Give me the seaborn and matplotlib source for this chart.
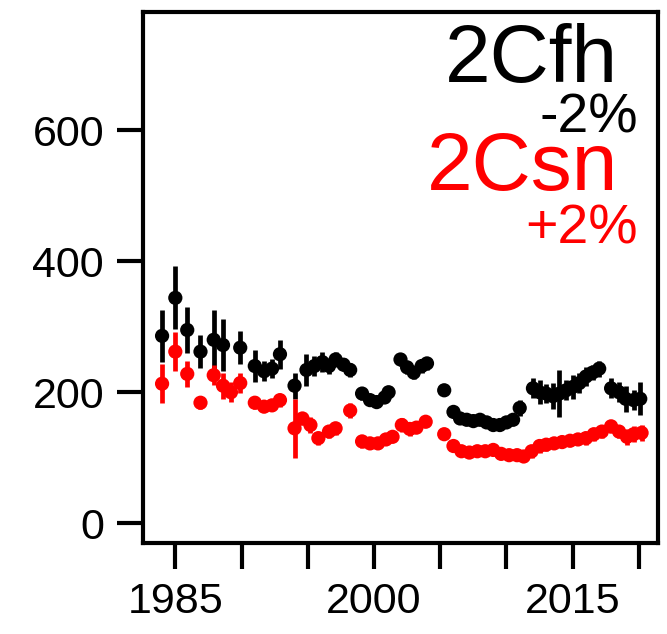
import numpy as np
import pandas as pd
import matplotlib
matplotlib.use("Agg")
import matplotlib.pyplot as plt
import seaborn as sns

# -------------------
# data
# -------------------
fh_year = [1984.0, 1985.0, 1985.9, 1986.9, 1987.9, 1988.6, 1989.9, 1991.0, 1991.7, 1992.3,
           1992.9, 1994.0, 1994.9, 1995.5, 1996.1, 1996.6, 1997.1, 1997.7, 1998.2, 1999.1,
           1999.7, 2000.2, 2000.8, 2001.1, 2002.0, 2002.5, 2003.0, 2003.6, 2004.0, 2005.3,
           2006.0, 2006.5, 2007.0, 2007.5, 2008.0, 2008.5, 2009.0, 2009.5, 2010.0, 2010.5,
           2011.0, 2012.0, 2012.5, 2013.0, 2013.5, 2014.0, 2014.5, 2015.0, 2015.5, 2016.0,
           2016.5, 2017.0, 2017.9, 2018.5, 2019.0, 2019.6, 2020.1]
fh_value = [286, 344, 295, 262, 280, 272, 268, 240, 232, 236,
            258, 210, 234, 240, 246, 240, 250, 242, 234, 198,
            188, 185, 192, 200, 250, 238, 230, 240, 244, 203,
            170, 160, 158, 156, 158, 154, 150, 150, 154, 158,
            176, 206, 200, 198, 194, 198, 203, 208, 214, 224,
            230, 236, 206, 200, 190, 188, 190]
fh_err = [40, 48, 35, 25, 45, 40, 25, 25, 15, 15,
          22, 20, 25, 15, 15, 12, 12, 10, 10, 10,
          8, 8, 8, 8, 10, 10, 10, 10, 10, 8,
          8, 8, 8, 8, 8, 8, 8, 8, 8, 8,
          12, 15, 18, 15, 20, 36, 15, 18, 15, 15,
          12, 12, 15, 15, 20, 15, 25]

sn_year = [1984.0, 1985.0, 1985.9, 1986.9, 1987.9, 1988.6, 1989.2, 1989.9, 1991.0, 1991.7,
           1992.3, 1992.9, 1994.0, 1994.6, 1995.2, 1995.8, 1996.6, 1997.1, 1998.2, 1999.1,
           1999.7, 2000.3, 2000.9, 2001.4, 2002.1, 2002.7, 2003.2, 2003.9, 2005.3, 2006.0,
           2006.6, 2007.2, 2007.8, 2008.4, 2009.0, 2009.6, 2010.2, 2010.8, 2011.3, 2011.9,
           2012.5, 2013.0, 2013.6, 2014.2, 2014.8, 2015.4, 2016.0, 2016.6, 2017.2, 2017.9,
           2018.5, 2019.1, 2019.6, 2020.2]
sn_value = [213, 262, 228, 184, 226, 210, 200, 214, 184, 178,
            180, 188, 145, 160, 150, 130, 140, 145, 172, 125,
            122, 122, 128, 132, 150, 144, 146, 155, 136, 118,
            110, 108, 110, 110, 112, 106, 104, 104, 102, 110,
            118, 120, 122, 124, 126, 128, 130, 136, 140, 148,
            140, 132, 136, 138]
sn_err = [30, 30, 20, 10, 15, 20, 15, 15, 10, 8,
          8, 10, 45, 10, 12, 10, 10, 10, 12, 10,
          8, 8, 8, 8, 10, 10, 8, 8, 8, 8,
          8, 8, 8, 8, 8, 8, 8, 8, 8, 10,
          10, 10, 8, 8, 8, 8, 10, 10, 10, 10,
          10, 12, 12, 12]

series_names = ["2Cfh", "2Csn"]
series_change = ["-2%", "+2%"]
series_colors = ["black", "#ff0000"]

x_ticks = [1985, 1990, 1995, 2000, 2005, 2010, 2015, 2020]
x_labels = ["1985", "", "", "2000", "", "", "2015", ""]
y_ticks = [0, 200, 400, 600]

df = pd.concat([
    pd.DataFrame({"year": fh_year, "value": fh_value, "err": fh_err, "series": "2Cfh"}),
    pd.DataFrame({"year": sn_year, "value": sn_value, "err": sn_err, "series": "2Csn"}),
])

# -------------------
# plot
# -------------------
sns.set_style("ticks")
plt.rcParams["font.family"] = ["Liberation Sans", "DejaVu Sans"]

fig = plt.figure(figsize=(6.67, 6.34), dpi=100)
ax = fig.add_axes([0.2144, 0.1435, 0.7721, 0.8375])

for name, col in zip(series_names, series_colors):
    d = df[df["series"] == name]
    ax.errorbar(d["year"], d["value"], yerr=d["err"], fmt="none",
                ecolor=col, elinewidth=3.4, capsize=0, zorder=2)

sns.scatterplot(data=df, x="year", y="value", hue="series",
                palette=dict(zip(series_names, series_colors)),
                marker="o", s=105, linewidth=0, legend=False, ax=ax, zorder=3)

ax.set_xlim(1982.56, 2021.44)
ax.set_ylim(-30, 780)
ax.set_xticks(x_ticks)
ax.set_xticklabels(x_labels)
ax.set_yticks(y_ticks)
ax.set_xlabel("")
ax.set_ylabel("")

for s in ax.spines.values():
    s.set_visible(True)
    s.set_linewidth(3)
    s.set_color("black")
ax.tick_params(axis="both", direction="out", length=19, width=3,
               labelsize=31, colors="black", pad=9)

# labels in the top-right corner
ax.text(0.922, 0.868, series_names[0], transform=ax.transAxes, ha="right",
        va="baseline", fontsize=59, color=series_colors[0])
ax.text(0.961, 0.774, series_change[0], transform=ax.transAxes, ha="right",
        va="baseline", fontsize=40, color=series_colors[0])
ax.text(0.922, 0.665, series_names[1], transform=ax.transAxes, ha="right",
        va="baseline", fontsize=59, color=series_colors[1])
ax.text(0.961, 0.565, series_change[1], transform=ax.transAxes, ha="right",
        va="baseline", fontsize=40, color=series_colors[1])

fig.savefig("out.png", dpi=100)
